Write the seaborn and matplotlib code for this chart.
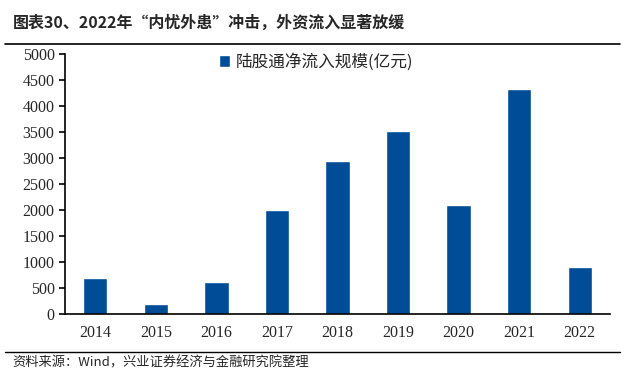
import seaborn as sns
import matplotlib.pyplot as plt
import pandas as pd
from matplotlib.lines import Line2D

years = ['2014', '2015', '2016', '2017', '2018', '2019', '2020', '2021', '2022']
inflow = [690, 185, 610, 2000, 2935, 3510, 2090, 4320, 900]
series_name = '陆股通净流入规模(亿元)'

df = pd.DataFrame({'year': years, 'inflow': inflow})

sns.set_style('white')
plt.rcParams['font.family'] = ['Noto Sans CJK SC', 'DejaVu Sans']

fig = plt.figure(figsize=(6.25, 3.77), dpi=100)
ax = fig.add_axes([0.104, 0.167, 0.872, 0.69])

sns.barplot(data=df, x='year', y='inflow', color='#004C97', width=0.4,
            saturation=1, label=series_name, ax=ax)

ax.set_ylim(0, 5000)
ax.set_yticks(range(0, 5001, 500))
ax.set_xlabel('')
ax.set_ylabel('')
for s in ['top', 'right']:
    ax.spines[s].set_visible(False)
for s in ['left', 'bottom']:
    ax.spines[s].set_color('black')
    ax.spines[s].set_linewidth(1.2)
ax.tick_params(axis='y', direction='out', length=4, width=1.2, left=True, color='black')
ax.tick_params(axis='x', length=0, pad=8)
for lab in ax.get_xticklabels() + ax.get_yticklabels():
    lab.set_family('Liberation Serif')
    lab.set_fontsize(11.5)

leg = ax.legend(loc='upper center', bbox_to_anchor=(0.46, 1.06), frameon=False,
                fontsize=12, handlelength=0.7, handleheight=0.7, handletextpad=0.3)

# 标题与页脚
fig.text(0.02, 0.94, '图表30、2022年“内忧外患”冲击，外资流入显著放缓',
         fontsize=11.5, fontweight='bold', va='center', ha='left')
fig.add_artist(Line2D([0.008, 0.992], [0.883, 0.883], color='black', lw=1.2))
fig.add_artist(Line2D([0.008, 0.992], [0.066, 0.066], color='black', lw=1.0))
fig.text(0.02, 0.038, '资料来源：Wind，兴业证券经济与金融研究院整理',
         fontsize=9.5, va='center', ha='left')

fig.savefig('out.png', dpi=100)
